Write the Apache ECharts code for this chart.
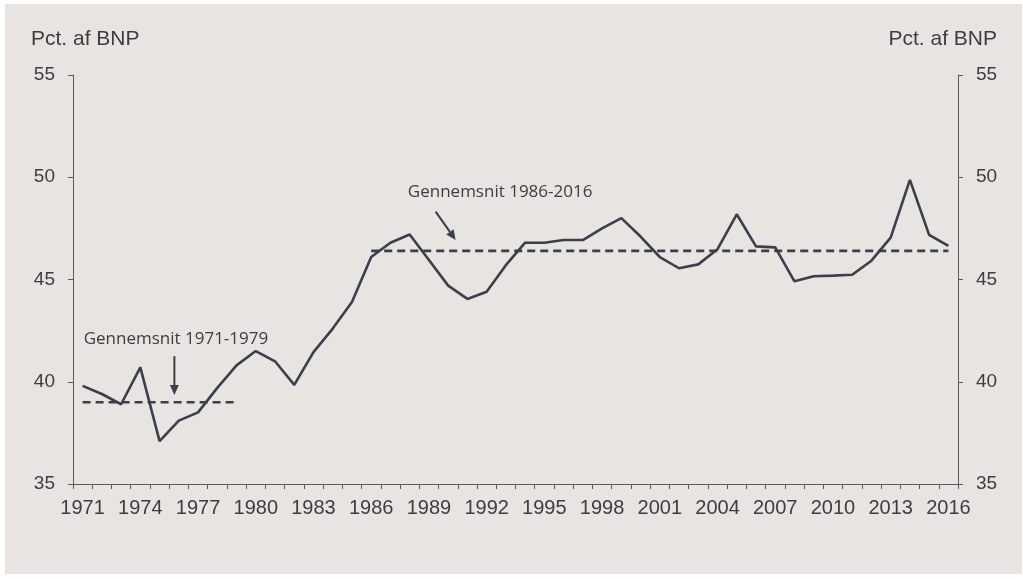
<!DOCTYPE html>
<html>
<head>
<meta charset="utf-8">
<script src="https://cdn.jsdelivr.net/npm/echarts@6/dist/echarts.min.js"></script>
<style>
  html, body { margin: 0; padding: 0; background: #ffffff; }
  #chart { position: absolute; left: 5px; top: 4px; width: 1017px; height: 570px; background: #e8e4e2; }
</style>
</head>
<body>
<div id="chart"></div>
<script>
// Skattetryk, pct. af BNP, 1971-2016
const years = [];
for (let y = 1971; y <= 2016; y++) years.push(String(y));

const taxShare = [
  39.8, 39.4, 38.9, 40.7, 37.1, 38.1, 38.5, 39.7, 40.8, 41.5,
  41.0, 39.85, 41.45, 42.6, 43.9, 46.1, 46.8, 47.2, 45.95, 44.7,
  44.05, 44.4, 45.7, 46.8, 46.8, 46.93, 46.93, 47.5, 48.0, 47.1,
  46.1, 45.55, 45.74, 46.48, 48.19, 46.62, 46.57, 44.91, 45.16, 45.19,
  45.23, 45.92, 47.05, 49.87, 47.18, 46.64
];

// Period averages
const avgEarly = { from: '1971', to: '1979', value: 39.0, label: 'Gennemsnit 1971-1979' };
const avgLate = { from: '1986', to: '2016', value: 46.4, label: 'Gennemsnit 1986-2016' };

const yTicks = { min: 35, max: 55, step: 5 };
const axisTitle = 'Pct. af BNP';

function periodSeries(p) {
  const i0 = years.indexOf(p.from), i1 = years.indexOf(p.to);
  return years.map((_, i) => (i >= i0 && i <= i1 ? p.value : null));
}

const ink = '#3b3e4b';
const textCol = '#3d3d3d';
const axisCol = '#5a5a5a';

const chart = echarts.init(document.getElementById('chart'));

function valueAxis(pos) {
  return {
    type: 'value', position: pos,
    min: yTicks.min, max: yTicks.max, interval: yTicks.step,
    axisLine: { show: true, lineStyle: { color: axisCol, width: 1 } },
    axisTick: { show: true, length: 5, lineStyle: { color: axisCol } },
    splitLine: { show: false },
    axisLabel: { color: textCol, fontFamily: 'Liberation Sans, Arial', fontSize: 19, margin: 18 }
  };
}

chart.setOption({
  animation: false,
  grid: { left: 68, right: 64, top: 71, bottom: 90 },
  xAxis: {
    type: 'category', data: years, boundaryGap: true,
    axisLine: { lineStyle: { color: axisCol, width: 1 } },
    axisTick: { show: true, interval: 0, length: 5, lineStyle: { color: axisCol } },
    axisLabel: { interval: 2, color: textCol, fontFamily: 'Liberation Sans, Arial', fontSize: 20, margin: 14 }
  },
  yAxis: [valueAxis('left'), valueAxis('right')],
  series: [
    {
      type: 'line', data: taxShare, symbol: 'none',
      lineStyle: { color: ink, width: 2.6 }, z: 3
    },
    {
      type: 'line', data: periodSeries(avgEarly), symbol: 'none',
      lineStyle: { color: ink, width: 2.6, type: [8, 5] }, z: 2
    },
    {
      type: 'line', data: periodSeries(avgLate), symbol: 'none',
      lineStyle: { color: ink, width: 2.6, type: [8, 5] }, z: 2
    }
  ]
});

// Place annotations in data space (fractional category index, value)
function toPx(idx, val) {
  const a = chart.convertToPixel({ xAxisIndex: 0, yAxisIndex: 0 }, [0, val]);
  const b = chart.convertToPixel({ xAxisIndex: 0, yAxisIndex: 0 }, [1, val]);
  return [a[0] + (b[0] - a[0]) * idx, a[1]];
}

function arrow(fromPt, toPt) {
  const p0 = toPx(fromPt[0], fromPt[1]);
  const p1 = toPx(toPt[0], toPt[1]);
  const dx = p1[0] - p0[0], dy = p1[1] - p0[1];
  const len = Math.hypot(dx, dy);
  const ux = dx / len, uy = dy / len;
  const head = 10, half = 4.5;
  const bx = p1[0] - ux * head, by = p1[1] - uy * head;
  return [
    { type: 'line', shape: { x1: p0[0], y1: p0[1], x2: bx, y2: by },
      style: { stroke: ink, lineWidth: 2 }, z: 10 },
    { type: 'polygon',
      shape: { points: [[p1[0], p1[1]], [bx - uy * half, by + ux * half], [bx + uy * half, by - ux * half]] },
      style: { fill: ink }, z: 10 }
  ];
}

function note(text, idx, val) {
  const p = toPx(idx, val);
  return { type: 'text', x: p[0], y: p[1], z: 10,
    style: { text: text, fill: textCol, font: '17px "Open Sans"', align: 'center', verticalAlign: 'middle' } };
}

const gridRect = chart.getModel().getComponent('grid').coordinateSystem.getRect();

chart.setOption({
  graphic: [
    note(avgEarly.label, 4.85, 42.1),
    ...arrow([4.77, 41.25], [4.77, 39.35]),
    note(avgLate.label, 21.7, 49.25),
    ...arrow([18.35, 48.32], [19.39, 46.93]),
    { type: 'text', x: 26, y: 35, style: { text: axisTitle, fill: textCol, font: '21px "Liberation Sans"', align: 'left', verticalAlign: 'middle' } },
    { type: 'text', x: gridRect.x + gridRect.width + 39, y: 35, style: { text: axisTitle, fill: textCol, font: '21px "Liberation Sans"', align: 'right', verticalAlign: 'middle' } }
  ]
});
</script>
</body>
</html>
